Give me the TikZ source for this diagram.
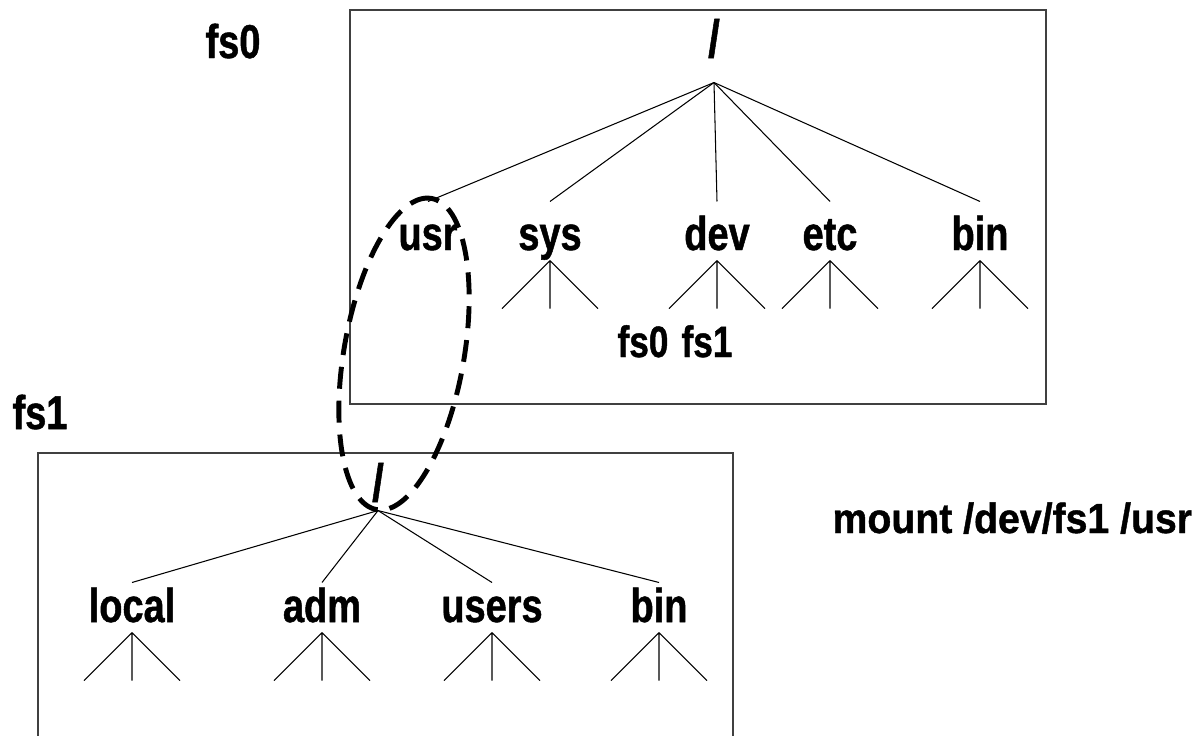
\documentclass[tikz,border=0pt]{standalone}
\usepackage{fontspec}
\newfontfamily\dirfont[FakeStretch=0.8,BoldFeatures={FakeBold=1}]{Liberation Sans}
\newfontfamily\mountfont[FakeStretch=0.93,BoldFeatures={FakeBold=1}]{Liberation Sans}

\begin{document}
\begin{tikzpicture}[x=0.02cm,y=-0.02cm,line width=0.6pt,
  dir/.style={font=\dirfont\bfseries\fontsize{27}{30}\selectfont,anchor=base,inner xsep=0pt,inner ysep=0.2cm,text height=0.58cm,text depth=0pt},
  topdir/.style={dir,text height=0.76cm},
  rootdir/.style={font=\dirfont\bfseries\fontsize{30}{32}\selectfont,anchor=base,inner sep=0pt},
  fsname/.style={font=\dirfont\bfseries\fontsize{27}{30}\selectfont,anchor=base,inner sep=0pt},
  leafname/.style={font=\dirfont\bfseries\fontsize{25}{28}\selectfont,anchor=base,inner sep=0pt},
  fsbox/.style={draw=black!75,line width=0.9pt},
  mountmark/.style={line width=2.8pt,dash pattern=on 12.5pt off 6.8pt}]
  \useasboundingbox (0,0) rectangle (1196,735);
  % the two file systems
  \draw[fsbox] (350,10) rectangle (1046,404);
  \draw[fsbox] (38,760) -- (38,453) -- (733,453) -- (733,760);
  \node[fsname] (fs0) at (233,58) {fs0};
  \node[fsname] (fs1) at (40,429) {fs1};
  % tree of fs0
  \node[rootdir,text depth=0.5cm] (root0) at (714,57) {/};
  \node[topdir] (usr) at (428,250) {usr};
  \node[topdir] (sys) at (550,250) {sys};
  \node[topdir] (dev) at (717,250) {dev};
  \node[topdir] (etc) at (830,250) {etc};
  \node[topdir] (bin0) at (980,250) {bin};
  \node[leafname] (devfs0) at (643,357) {fs0};
  \node[leafname] (devfs1) at (707,357) {fs1};
  \foreach \d in {usr,sys,dev,etc,bin0}
    \draw (root0.south) -- (\d.north);
  % tree of fs1
  \node[rootdir,text depth=0.18cm] (root1) at (378,501) {/};
  \node[dir] (local) at (132,622) {local};
  \node[dir] (adm) at (322,622) {adm};
  \node[dir] (users) at (492,622) {users};
  \node[dir] (bin1) at (659,622) {bin};
  \foreach \d in {local,adm,users,bin1}
    \draw (root1.south) -- (\d.north);
  % subtrees below the directories
  \foreach \d in {sys,dev,etc,bin0,local,adm,users,bin1}
    \draw (\d.south) -- ++(-48,48) (\d.south) -- ++(0,48) (\d.south) -- ++(48,48);
  % mount
  \draw[mountmark,rotate around={80:(404,354)}] (404,354) ellipse (3.16cm and 1.2cm);
  \node[font=\mountfont\bfseries\fontsize{24}{28}\selectfont,anchor=base west,inner sep=0pt] (mount) at (832,533) {mount /dev/fs1 /usr};
\end{tikzpicture}
\end{document}
